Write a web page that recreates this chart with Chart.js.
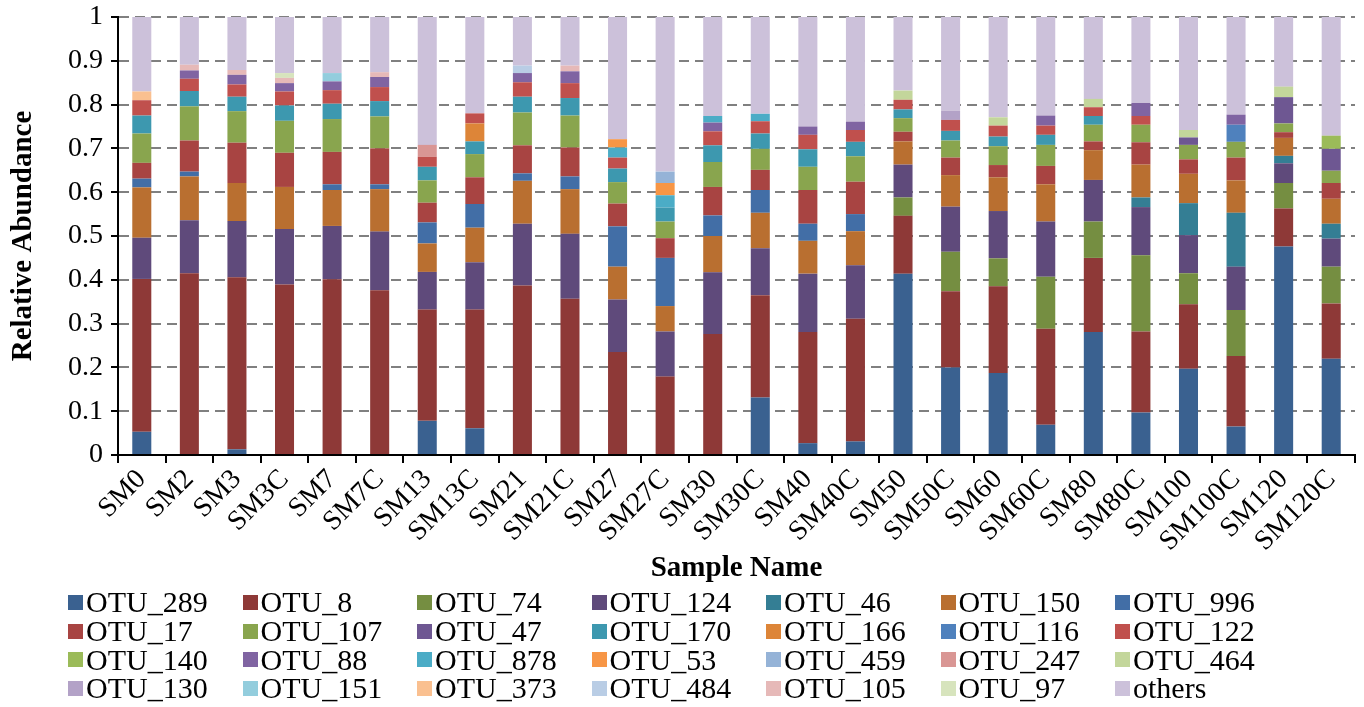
<!DOCTYPE html>
<html>
<head>
<meta charset="utf-8">
<script src="https://cdn.jsdelivr.net/npm/chart.js@4.4.0/dist/chart.umd.min.js"></script>
<style>
  body { margin: 0; background: #fff; }
  #wrap { position: relative; width: 1364px; height: 588px; }
  #legend {
    position: absolute; left: 68px; top: 588px;
    display: grid; grid-template-columns: repeat(7, 174.5px);
    grid-auto-rows: 28.7px;
    font-family: "Liberation Serif", "Times New Roman", serif; font-size: 30px; color: #000;
  }
  .item { display: flex; align-items: center; white-space: nowrap; }
  .box { width: 15px; height: 15px; margin-right: 3px; }
</style>
</head>
<body>
<div id="wrap"><canvas id="chart"></canvas></div>
<div id="legend"></div>
<script>
// sample names along the x axis
const samples = ['SM0', 'SM2', 'SM3', 'SM3C', 'SM7', 'SM7C', 'SM13', 'SM13C', 'SM21', 'SM21C',
  'SM27', 'SM27C', 'SM30', 'SM30C', 'SM40', 'SM40C', 'SM50', 'SM50C', 'SM60', 'SM60C',
  'SM80', 'SM80C', 'SM100', 'SM100C', 'SM120', 'SM120C'];

const yTicks = [0, 0.1, 0.2, 0.3, 0.4, 0.5, 0.6, 0.7, 0.8, 0.9, 1];

// relative abundance per OTU, one value per sample
const otu289 = [0.053, 0, 0.013, 0, 0, 0, 0.078, 0.061, 0, 0, 0, 0, 0, 0.131, 0.027, 0.031, 0.414, 0.200, 0.187, 0.069, 0.281, 0.097, 0.197, 0.065, 0.476, 0.220];
const otu8 = [0.349, 0.415, 0.393, 0.389, 0.401, 0.376, 0.254, 0.271, 0.387, 0.357, 0.235, 0.179, 0.276, 0.234, 0.254, 0.280, 0.132, 0.174, 0.198, 0.219, 0.169, 0.185, 0.147, 0.161, 0.087, 0.126];
const otu74 = [0, 0, 0, 0, 0, 0, 0, 0, 0, 0, 0, 0, 0, 0, 0, 0, 0.042, 0.090, 0.064, 0.119, 0.083, 0.174, 0.071, 0.105, 0.058, 0.084];
const otu124 = [0.094, 0.121, 0.128, 0.127, 0.122, 0.134, 0.086, 0.108, 0.141, 0.148, 0.120, 0.103, 0.141, 0.107, 0.133, 0.122, 0.075, 0.103, 0.108, 0.126, 0.095, 0.110, 0.087, 0.099, 0.045, 0.064];
const otu46 = [0, 0, 0, 0, 0, 0, 0, 0, 0, 0, 0, 0, 0, 0, 0, 0, 0, 0, 0, 0, 0, 0.022, 0.073, 0.123, 0.017, 0.034];
const otu150 = [0.115, 0.100, 0.087, 0.096, 0.082, 0.097, 0.065, 0.079, 0.098, 0.102, 0.075, 0.058, 0.083, 0.081, 0.075, 0.078, 0.053, 0.072, 0.077, 0.085, 0.068, 0.075, 0.067, 0.074, 0.041, 0.057];
const otu996 = [0.020, 0.011, 0, 0, 0.013, 0.011, 0.048, 0.054, 0.017, 0.029, 0.092, 0.110, 0.047, 0.052, 0.039, 0.039, 0, 0, 0, 0, 0, 0, 0, 0, 0, 0];
const otu17 = [0.036, 0.071, 0.092, 0.078, 0.074, 0.082, 0.045, 0.061, 0.064, 0.066, 0.052, 0.045, 0.065, 0.046, 0.077, 0.074, 0.022, 0.040, 0.028, 0.042, 0.020, 0.051, 0.033, 0.052, 0.013, 0.036];
const otu107 = [0.067, 0.078, 0.072, 0.073, 0.075, 0.073, 0.051, 0.053, 0.075, 0.073, 0.049, 0.038, 0.057, 0.048, 0.053, 0.058, 0.031, 0.039, 0.043, 0.048, 0.038, 0.040, 0.033, 0.036, 0.020, 0.028];
const otu47 = [0, 0, 0, 0, 0, 0, 0, 0, 0, 0, 0, 0, 0, 0, 0, 0, 0, 0, 0, 0, 0, 0, 0.017, 0, 0.060, 0.050];
const otu170 = [0.041, 0.035, 0.033, 0.035, 0.035, 0.035, 0.031, 0.029, 0.036, 0.040, 0.031, 0.032, 0.038, 0.035, 0.040, 0.033, 0.020, 0.022, 0.022, 0.023, 0.020, 0, 0, 0, 0, 0];
const otu166 = [0, 0, 0, 0, 0, 0, 0, 0.041, 0, 0, 0, 0, 0, 0, 0, 0, 0, 0, 0, 0, 0, 0, 0, 0, 0, 0];
const otu116 = [0, 0, 0, 0, 0, 0, 0, 0, 0, 0, 0, 0, 0, 0, 0, 0, 0, 0, 0, 0, 0, 0, 0, 0.039, 0, 0];
const otu122 = [0.035, 0.028, 0.028, 0.032, 0.031, 0.032, 0.023, 0.023, 0.033, 0.034, 0.025, 0, 0.032, 0.028, 0.033, 0.027, 0.022, 0.025, 0.025, 0.021, 0.020, 0.020, 0, 0, 0, 0];
const otu140 = [0, 0, 0, 0, 0, 0, 0, 0, 0, 0, 0, 0, 0, 0, 0, 0, 0, 0, 0, 0, 0, 0, 0, 0, 0, 0.030];
const otu88 = [0, 0.019, 0.022, 0.019, 0.020, 0.023, 0, 0, 0.021, 0.027, 0, 0, 0.020, 0, 0.019, 0.019, 0, 0, 0, 0.023, 0, 0.030, 0, 0.023, 0, 0];
const otu878 = [0, 0, 0, 0, 0, 0, 0, 0, 0, 0, 0.023, 0.028, 0.015, 0.017, 0, 0, 0, 0, 0, 0, 0, 0, 0, 0, 0, 0];
const otu53 = [0, 0, 0, 0, 0, 0, 0, 0, 0, 0, 0.019, 0.028, 0, 0, 0, 0, 0, 0, 0, 0, 0, 0, 0, 0, 0, 0];
const otu459 = [0, 0, 0, 0, 0, 0, 0, 0, 0, 0, 0, 0.026, 0, 0, 0, 0, 0, 0, 0, 0, 0, 0, 0, 0, 0, 0];
const otu247 = [0, 0, 0, 0, 0, 0, 0.027, 0, 0, 0, 0, 0, 0, 0, 0, 0, 0, 0, 0, 0, 0, 0, 0, 0, 0, 0];
const otu464 = [0, 0, 0, 0, 0, 0, 0, 0, 0, 0, 0, 0, 0, 0, 0, 0, 0.021, 0, 0.019, 0, 0.019, 0, 0.017, 0, 0.024, 0];
const otu130 = [0, 0, 0, 0, 0, 0, 0, 0, 0, 0, 0, 0, 0, 0, 0, 0, 0, 0.021, 0, 0, 0, 0, 0, 0, 0, 0];
const otu151 = [0, 0, 0, 0, 0.019, 0, 0, 0, 0, 0, 0, 0, 0, 0, 0, 0, 0, 0, 0, 0, 0, 0, 0, 0, 0, 0];
const otu373 = [0.020, 0, 0, 0, 0, 0, 0, 0, 0, 0, 0, 0, 0, 0, 0, 0, 0, 0, 0, 0, 0, 0, 0, 0, 0, 0];
const otu484 = [0, 0, 0, 0, 0, 0, 0, 0, 0.017, 0, 0, 0, 0, 0, 0, 0, 0, 0, 0, 0, 0, 0, 0, 0, 0, 0];
const otu105 = [0, 0.013, 0.011, 0.012, 0, 0.011, 0, 0, 0, 0.013, 0, 0, 0, 0, 0, 0, 0, 0, 0, 0, 0, 0, 0, 0, 0, 0];
const otu97 = [0, 0, 0, 0.011, 0, 0, 0, 0, 0, 0, 0, 0, 0, 0, 0, 0, 0, 0, 0, 0, 0, 0, 0, 0, 0, 0];
const others = [0.170, 0.109, 0.121, 0.128, 0.128, 0.126, 0.292, 0.220, 0.111, 0.111, 0.279, 0.353, 0.226, 0.221, 0.250, 0.239, 0.168, 0.214, 0.229, 0.225, 0.187, 0.196, 0.258, 0.223, 0.159, 0.271];

// stacking order, bottom to top (also the legend order)
const series = [
  ['OTU_289', otu289, '#3A6190'], ['OTU_8', otu8, '#8E3937'], ['OTU_74', otu74, '#758E41'],
  ['OTU_124', otu124, '#5F4A7B'], ['OTU_46', otu46, '#347E94'], ['OTU_150', otu150, '#B96F30'],
  ['OTU_996', otu996, '#426EA6'], ['OTU_17', otu17, '#A84442'], ['OTU_107', otu107, '#89A54E'],
  ['OTU_47', otu47, '#6E5792'], ['OTU_170', otu170, '#3D98AF'], ['OTU_166', otu166, '#DD8538'],
  ['OTU_116', otu116, '#4F81BD'], ['OTU_122', otu122, '#C0504D'], ['OTU_140', otu140, '#9BBB59'],
  ['OTU_88', otu88, '#8064A2'], ['OTU_878', otu878, '#4BACC6'], ['OTU_53', otu53, '#F79646'],
  ['OTU_459', otu459, '#95B3D7'], ['OTU_247', otu247, '#D99694'], ['OTU_464', otu464, '#C3D69B'],
  ['OTU_130', otu130, '#B3A2C7'], ['OTU_151', otu151, '#93CDDD'], ['OTU_373', otu373, '#FAC090'],
  ['OTU_484', otu484, '#B9CDE5'], ['OTU_105', otu105, '#E6B9B8'], ['OTU_97', otu97, '#D7E4BD'],
  ['others', others, '#CCC1DA']
];

const serif = '"Liberation Serif", "Times New Roman", serif';

const datasets = series.map(s => ({
  label: s[0],
  data: s[1],
  backgroundColor: s[2],
  borderWidth: 0,
  barPercentage: 0.4,
  categoryPercentage: 1.0
}));

new Chart(document.getElementById('chart'), {
  type: 'bar',
  data: { labels: samples, datasets: datasets },
  options: {
    responsive: true,
    maintainAspectRatio: false,
    animation: false,
    layout: { padding: { top: 17, right: 9, left: 0, bottom: 0 } },
    plugins: { legend: { display: false }, tooltip: { enabled: false } },
    scales: {
      x: {
        stacked: true,
        afterFit: s => { s.height = 133; },
        grid: { drawOnChartArea: false, drawTicks: true, tickLength: 8, color: '#000', lineWidth: 2 },
        border: { color: '#000', width: 2 },
        ticks: { color: '#000', font: { family: serif, size: 28 }, minRotation: 45, maxRotation: 45, autoSkip: false, padding: 0 },
        title: { display: true, text: 'Sample Name', color: '#000', font: { family: serif, size: 29, weight: 'bold' }, padding: { top: 0, bottom: 2 } }
      },
      y: {
        stacked: true,
        min: 0,
        max: 1,
        // fixed axis width, and no extra room kept for the top tick label
        afterFit: s => { s.width = 118; s.paddingTop = 0; s.paddingBottom = 0; },
        afterBuildTicks: axis => { axis.ticks = yTicks.map(v => ({ value: v })); },
        grid: { color: '#808080', lineWidth: 2, tickLength: 7, tickColor: '#000' },
        border: { color: '#000', width: 2, dash: [10, 6] },
        ticks: { color: '#000', font: { family: serif, size: 28 }, padding: 8, callback: v => String(v) },
        title: { display: true, text: 'Relative Abundance', color: '#000', font: { family: serif, size: 29, weight: 'bold' }, padding: { top: 6, bottom: 0 } }
      }
    }
  }
});

// legend as a 7-column grid under the chart
const legend = document.getElementById('legend');
series.forEach(s => {
  const item = document.createElement('div');
  item.className = 'item';
  item.innerHTML = `<span class="box" style="background:${s[2]}"></span>${s[0]}`;
  legend.appendChild(item);
});
</script>
</body>
</html>
